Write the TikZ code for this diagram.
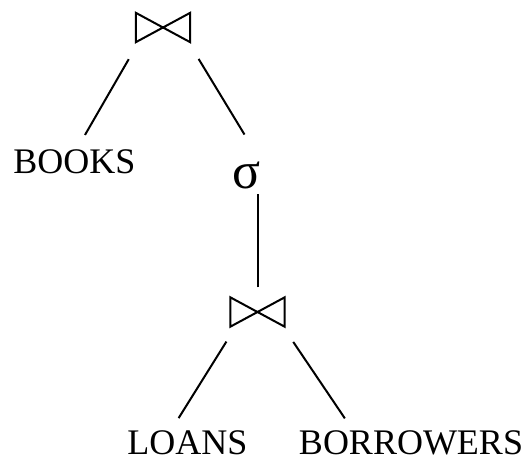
\documentclass[tikz,border=0pt]{standalone}
\usepackage{fontspec}
\setmainfont{Liberation Serif}

\tikzset{
  rel/.style={font=\fontsize{36}{40}\selectfont, inner sep=0pt, anchor=base},
  sel/.style={font=\fontsize{52}{56}\selectfont, inner sep=0pt},
  joinbox/.style={minimum width=54pt, minimum height=29pt, inner sep=0pt},
  edge/.style={line width=2pt},
}

\begin{document}
\begin{tikzpicture}[x=1pt,y=-1pt]
  \useasboundingbox (0,0) rectangle (529,459);
  % operators
  \node[joinbox] (top) at (163,27.5) {};
  \node[sel] (sigma) at (246.5,175) {σ};
  \node[joinbox] (low) at (257.5,312) {};
  % relations
  \node[rel] (books) at (74.5,173) {BOOKS};
  \node[rel] (loans) at (187.5,454) {LOANS};
  \node[rel] (borrowers) at (411,454) {BORROWERS};
  % join symbols
  \foreach \j in {top,low}
    \draw[edge, line join=miter] (\j.north west) -- (\j.center) -- (\j.south west) -- cycle
      (\j.north east) -- (\j.center) -- (\j.south east) -- cycle;
  % tree edges
  \draw[edge, shorten <=19.6pt, shorten >=16.2pt] (top.211) -- (books.79);
  \draw[edge, shorten <=19.6pt, shorten >=31.3pt] (top.330) -- (sigma.44);
  \draw[edge, shorten <=10pt, shorten >=5pt] (low.north) -- (low.north |- sigma.south);
  \draw[edge, shorten <=17.5pt, shorten >=14pt] (low.214) -- (loans.143);
  \draw[edge, shorten <=18.4pt, shorten >=14pt] (low.330) -- (borrowers.168);
\end{tikzpicture}
\end{document}
